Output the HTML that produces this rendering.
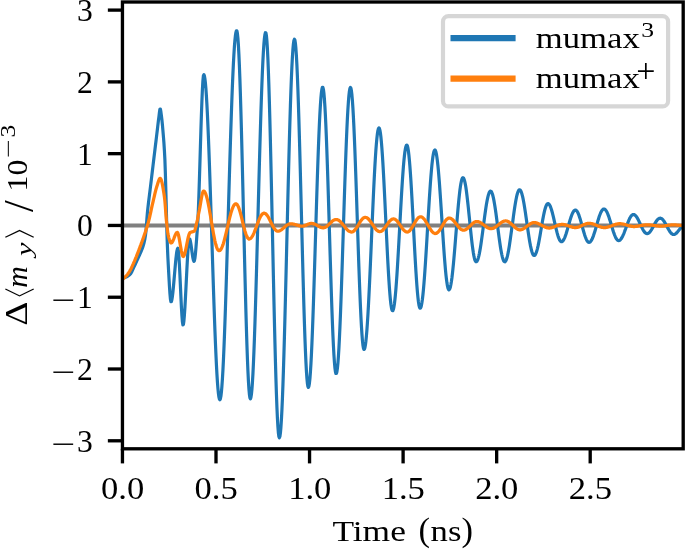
<!DOCTYPE html>
<html><head><meta charset="utf-8"><title>mumax comparison</title>
<style>
html,body{margin:0;padding:0;background:#fff;}
svg{display:block;}
text{font-family:"Liberation Serif","DejaVu Serif",serif;font-size:29.6px;fill:#000;}
.it{font-style:italic;}
.tk{font-size:30.6px;}
.br{font-family:"Noto Sans CJK JP","Noto Sans CJK SC","DejaVu Sans",sans-serif;font-weight:300;}
</style></head><body>
<svg width="685" height="549" viewBox="0 0 685 549">
<rect width="685" height="549" fill="#fff"/>
<defs><clipPath id="ax"><rect x="122.45" y="2.0" width="560.75" height="446.8"/></clipPath></defs>

<g clip-path="url(#ax)" fill="none" stroke-linejoin="round" stroke-linecap="butt">
<line x1="122.45" x2="683.2" y1="225.45" y2="225.45" stroke="#808080" stroke-width="4.1"/>
<path d="M122.5 278.0 L123.0 278.0 L123.5 277.9 L124.0 277.8 L124.5 277.7 L125.0 277.5 L125.5 277.3 L126.0 277.1 L126.5 276.9 L127.0 276.6 L127.5 276.3 L128.0 276.0 L128.4 275.7 L128.9 275.3 L129.4 274.9 L129.9 274.6 L130.4 274.0 L130.9 273.3 L131.4 272.5 L131.9 271.5 L132.4 270.4 L132.9 269.3 L133.4 268.2 L133.9 267.1 L134.4 266.1 L134.9 265.0 L135.4 264.0 L135.9 262.9 L136.4 261.8 L136.9 260.7 L137.4 259.6 L137.9 258.5 L138.4 257.4 L138.9 256.3 L139.4 255.3 L139.9 254.2 L140.4 253.0 L140.9 251.9 L141.4 250.6 L141.9 249.4 L142.4 248.1 L142.9 246.7 L143.4 245.1 L143.9 243.3 L144.4 241.2 L144.9 238.8 L145.4 235.7 L145.9 231.8 L146.4 225.8 L146.9 218.9 L147.4 212.7 L147.9 207.9 L148.4 203.5 L148.9 199.4 L149.4 195.4 L149.9 191.5 L150.4 187.4 L150.9 183.2 L151.4 179.1 L151.9 174.9 L152.4 170.7 L152.9 166.6 L153.4 162.4 L153.9 158.3 L154.4 154.1 L154.9 150.0 L155.4 145.8 L155.9 141.7 L156.4 137.6 L156.9 133.4 L157.4 129.2 L157.9 124.9 L158.4 120.7 L158.9 116.9 L159.4 112.8 L159.9 109.3 L160.4 109.1 L160.9 111.9 L161.4 115.6 L161.9 119.7 L162.4 124.7 L162.9 130.4 L163.4 136.3 L163.9 142.7 L164.4 150.3 L164.9 159.8 L165.4 174.3 L165.9 192.7 L166.4 212.0 L166.9 232.0 L167.4 246.2 L167.9 257.8 L168.4 267.3 L168.9 276.5 L169.4 285.4 L169.9 293.1 L170.4 298.9 L170.9 301.7 L171.4 301.5 L171.9 299.6 L172.4 296.4 L172.9 292.2 L173.4 287.1 L173.9 281.5 L174.4 275.7 L174.9 269.8 L175.4 264.2 L175.9 259.0 L176.4 254.6 L176.9 251.1 L177.4 249.0 L177.9 248.3 L178.4 250.7 L178.9 256.4 L179.4 264.7 L179.9 274.7 L180.4 285.6 L180.9 296.6 L181.4 306.8 L181.9 315.5 L182.4 321.8 L182.9 324.9 L183.4 324.4 L183.9 320.9 L184.4 315.2 L184.9 307.6 L185.4 298.7 L185.9 289.0 L186.4 278.9 L186.9 268.9 L187.4 259.6 L187.9 251.4 L188.4 244.9 L188.9 240.5 L189.4 238.7 L189.9 239.3 L190.4 241.2 L190.9 244.0 L191.4 247.5 L191.9 251.2 L192.4 254.7 L192.9 257.9 L193.4 260.2 L193.9 261.3 L194.4 260.8 L194.9 258.3 L195.4 254.0 L195.9 248.4 L196.4 241.9 L196.9 235.0 L197.4 228.1 L197.9 219.9 L198.4 208.7 L198.9 195.2 L199.4 179.9 L199.9 163.6 L200.4 146.9 L200.9 130.5 L201.4 115.0 L201.9 101.2 L202.4 89.6 L202.9 80.8 L203.4 75.7 L203.9 74.7 L204.4 75.9 L204.9 78.7 L205.4 83.0 L205.9 88.7 L206.4 95.9 L206.9 104.4 L207.4 114.1 L207.9 125.1 L208.4 137.1 L208.9 150.0 L209.4 163.8 L209.9 178.3 L210.4 193.3 L210.9 208.8 L211.4 224.5 L211.9 240.4 L212.4 256.2 L212.9 271.8 L213.4 287.1 L213.9 302.0 L214.4 316.2 L214.9 329.7 L215.4 342.3 L215.9 353.8 L216.4 364.3 L216.9 373.6 L217.4 381.6 L217.9 388.2 L218.4 393.3 L218.9 397.0 L219.4 399.2 L219.9 399.8 L220.4 398.8 L220.9 396.3 L221.4 392.1 L221.9 386.4 L222.4 379.2 L222.9 370.6 L223.4 360.6 L223.9 349.3 L224.4 336.9 L224.9 323.4 L225.4 309.0 L225.9 293.7 L226.4 277.8 L226.9 261.3 L227.4 244.4 L227.9 227.3 L228.4 210.0 L228.9 192.8 L229.4 175.8 L229.9 159.1 L230.4 143.0 L230.9 127.4 L231.4 112.6 L231.9 98.8 L232.4 85.9 L232.9 74.2 L233.4 63.7 L233.9 54.5 L234.4 46.7 L234.9 40.4 L235.4 35.6 L235.9 32.4 L236.4 30.8 L236.9 30.9 L237.4 33.3 L237.9 38.1 L238.4 45.2 L238.9 54.6 L239.4 66.0 L239.9 79.4 L240.4 94.6 L240.9 111.3 L241.4 129.4 L241.9 148.7 L242.4 168.8 L242.9 189.4 L243.4 210.5 L243.9 231.6 L244.4 252.4 L244.9 272.8 L245.4 292.4 L245.9 311.0 L246.4 328.3 L246.9 344.1 L247.4 358.3 L247.9 370.5 L248.4 380.7 L248.9 388.7 L249.4 394.4 L249.9 397.8 L250.4 398.8 L250.9 397.6 L251.4 394.6 L251.9 389.6 L252.4 382.8 L252.9 374.3 L253.4 364.0 L253.9 352.3 L254.4 339.0 L254.9 324.5 L255.4 308.8 L255.9 292.2 L256.4 274.7 L256.9 256.7 L257.4 238.2 L257.9 219.4 L258.4 200.6 L258.9 182.0 L259.4 163.7 L259.9 146.0 L260.4 129.0 L260.9 112.9 L261.4 97.9 L261.9 84.2 L262.4 71.8 L262.9 60.9 L263.4 51.7 L263.9 44.2 L264.4 38.5 L264.9 34.7 L265.4 32.7 L265.9 32.8 L266.4 35.5 L266.9 40.8 L267.4 48.6 L267.9 58.9 L268.4 71.5 L268.9 86.2 L269.4 102.9 L269.9 121.4 L270.4 141.3 L270.9 162.5 L271.4 184.6 L271.9 207.4 L272.4 230.5 L272.9 253.7 L273.4 276.7 L273.9 299.1 L274.4 320.7 L274.9 341.1 L275.4 360.2 L275.9 377.6 L276.4 393.2 L276.9 406.7 L277.4 417.9 L277.9 426.7 L278.4 433.0 L278.9 436.7 L279.4 437.8 L279.9 436.5 L280.4 433.1 L280.9 427.5 L281.4 419.9 L281.9 410.4 L282.4 399.0 L282.9 385.9 L283.4 371.1 L283.9 355.0 L284.4 337.6 L284.9 319.1 L285.4 299.7 L285.9 279.7 L286.4 259.2 L286.9 238.5 L287.4 217.8 L287.9 197.3 L288.4 177.3 L288.9 157.9 L289.4 139.4 L289.9 122.0 L290.4 105.9 L290.9 91.1 L291.4 78.0 L291.9 66.6 L292.4 57.1 L292.9 49.5 L293.4 43.9 L293.9 40.5 L294.4 39.2 L294.9 40.1 L295.4 43.2 L295.9 48.5 L296.4 55.8 L296.9 65.2 L297.4 76.5 L297.9 89.5 L298.4 104.1 L298.9 120.1 L299.4 137.3 L299.9 155.4 L300.4 174.3 L300.9 193.7 L301.4 213.3 L301.9 232.9 L302.4 252.3 L302.9 271.2 L303.4 289.3 L303.9 306.5 L304.4 322.5 L304.9 337.1 L305.4 350.1 L305.9 361.4 L306.4 370.8 L306.9 378.1 L307.4 383.4 L307.9 386.5 L308.4 387.4 L308.9 386.3 L309.4 383.4 L309.9 378.8 L310.4 372.4 L310.9 364.4 L311.4 354.9 L311.9 344.0 L312.4 331.8 L312.9 318.4 L313.4 304.1 L313.9 288.9 L314.4 273.2 L314.9 257.0 L315.4 240.5 L315.9 224.1 L316.4 207.8 L316.9 191.8 L317.4 176.4 L317.9 161.7 L318.4 147.9 L318.9 135.2 L319.4 123.8 L319.9 113.7 L320.4 105.1 L320.9 98.1 L321.4 92.7 L321.9 89.1 L322.4 87.3 L322.9 87.3 L323.4 89.3 L323.9 93.1 L324.4 98.8 L324.9 106.3 L325.4 115.5 L325.9 126.2 L326.4 138.3 L326.9 151.7 L327.4 166.1 L327.9 181.4 L328.4 197.4 L328.9 213.8 L329.4 230.4 L329.9 247.0 L330.4 263.4 L330.9 279.4 L331.4 294.7 L331.9 309.1 L332.4 322.5 L332.9 334.6 L333.4 345.3 L333.9 354.5 L334.4 362.0 L334.9 367.7 L335.4 371.5 L335.9 373.5 L336.4 373.5 L336.9 371.8 L337.4 368.3 L337.9 363.3 L338.4 356.6 L338.9 348.4 L339.4 338.7 L339.9 327.8 L340.4 315.7 L340.9 302.6 L341.4 288.6 L341.9 273.9 L342.4 258.7 L342.9 243.2 L343.4 227.5 L343.9 211.8 L344.4 196.4 L344.9 181.3 L345.4 166.9 L345.9 153.2 L346.4 140.5 L346.9 128.9 L347.4 118.4 L347.9 109.4 L348.4 101.8 L348.9 95.7 L349.4 91.3 L349.9 88.5 L350.4 87.5 L350.9 88.2 L351.4 90.6 L351.9 94.8 L352.4 100.6 L352.9 107.9 L353.4 116.8 L353.9 126.9 L354.4 138.4 L354.9 150.8 L355.4 164.2 L355.9 178.3 L356.4 192.9 L356.9 207.9 L357.4 223.0 L357.9 238.1 L358.4 252.9 L358.9 267.2 L359.4 280.9 L359.9 293.8 L360.4 305.6 L360.9 316.3 L361.4 325.7 L361.9 333.7 L362.4 340.1 L362.9 344.9 L363.4 348.0 L363.9 349.4 L364.4 349.2 L364.9 347.7 L365.4 345.0 L365.9 341.2 L366.4 336.2 L366.9 330.1 L367.4 323.0 L367.9 315.0 L368.4 306.1 L368.9 296.4 L369.4 286.2 L369.9 275.4 L370.4 264.2 L370.9 252.7 L371.4 241.0 L371.9 229.4 L372.4 217.8 L372.9 206.5 L373.4 195.5 L373.9 185.0 L374.4 175.1 L374.9 165.9 L375.4 157.5 L375.9 150.0 L376.4 143.5 L376.9 138.1 L377.4 133.8 L377.9 130.6 L378.4 128.6 L378.9 127.9 L379.4 128.4 L379.9 130.1 L380.4 133.0 L380.9 137.0 L381.4 142.2 L381.9 148.3 L382.4 155.4 L382.9 163.4 L383.4 172.1 L383.9 181.4 L384.4 191.3 L384.9 201.5 L385.4 212.0 L385.9 222.5 L386.4 233.0 L386.9 243.4 L387.4 253.4 L387.9 262.9 L388.4 271.9 L388.9 280.2 L389.4 287.6 L389.9 294.2 L390.4 299.8 L390.9 304.2 L391.4 307.6 L391.9 309.8 L392.4 310.7 L392.9 310.6 L393.4 309.3 L393.9 307.1 L394.4 304.0 L394.9 299.8 L395.4 294.9 L395.9 289.1 L396.4 282.5 L396.9 275.3 L397.4 267.5 L397.9 259.2 L398.4 250.5 L398.9 241.6 L399.4 232.5 L399.9 223.3 L400.4 214.2 L400.9 205.3 L401.4 196.6 L401.9 188.3 L402.4 180.5 L402.9 173.3 L403.4 166.7 L403.9 160.9 L404.4 156.0 L404.9 151.8 L405.4 148.7 L405.9 146.5 L406.4 145.2 L406.9 145.1 L407.4 145.9 L407.9 147.9 L408.4 151.0 L408.9 155.2 L409.4 160.3 L409.9 166.3 L410.4 173.1 L410.9 180.7 L411.4 188.9 L411.9 197.6 L412.4 206.8 L412.9 216.2 L413.4 225.7 L413.9 235.2 L414.4 244.7 L414.9 253.9 L415.4 262.7 L415.9 271.0 L416.4 278.7 L416.9 285.7 L417.4 291.9 L417.9 297.2 L418.4 301.5 L418.9 304.8 L419.4 307.0 L419.9 308.2 L420.4 308.2 L420.9 307.3 L421.4 305.5 L421.9 302.8 L422.4 299.3 L422.9 295.0 L423.4 290.0 L423.9 284.2 L424.4 277.8 L424.9 270.9 L425.4 263.5 L425.9 255.7 L426.4 247.6 L426.9 239.3 L427.4 230.8 L427.9 222.4 L428.4 214.0 L428.9 205.8 L429.4 197.9 L429.9 190.3 L430.4 183.2 L430.9 176.6 L431.4 170.6 L431.9 165.2 L432.4 160.6 L432.9 156.8 L433.4 153.8 L433.9 151.6 L434.4 150.4 L434.9 150.0 L435.4 150.5 L435.9 151.9 L436.4 154.1 L436.9 157.2 L437.4 161.0 L437.9 165.5 L438.4 170.7 L438.9 176.6 L439.4 182.9 L439.9 189.8 L440.4 197.0 L440.9 204.5 L441.4 212.1 L441.9 219.9 L442.4 227.7 L442.9 235.3 L443.4 242.8 L443.9 250.0 L444.4 256.9 L444.9 263.2 L445.4 269.1 L445.9 274.3 L446.4 278.8 L446.9 282.6 L447.4 285.7 L447.9 287.9 L448.4 289.3 L448.9 289.8 L449.4 289.5 L449.9 288.5 L450.4 286.9 L450.9 284.5 L451.4 281.5 L451.9 278.0 L452.4 273.8 L452.9 269.2 L453.4 264.1 L453.9 258.6 L454.4 252.9 L454.9 246.8 L455.4 240.7 L455.9 234.4 L456.4 228.1 L456.9 221.9 L457.4 215.8 L457.9 210.0 L458.4 204.5 L458.9 199.3 L459.4 194.6 L459.9 190.3 L460.4 186.6 L460.9 183.5 L461.4 181.1 L461.9 179.2 L462.4 178.1 L462.9 177.7 L463.4 177.9 L463.9 178.8 L464.4 180.2 L464.9 182.1 L465.4 184.6 L465.9 187.6 L466.4 191.1 L466.9 195.0 L467.4 199.2 L467.9 203.7 L468.4 208.4 L468.9 213.3 L469.4 218.2 L469.9 223.2 L470.4 228.2 L470.9 233.0 L471.4 237.7 L471.9 242.1 L472.4 246.1 L472.9 249.8 L473.4 253.1 L473.9 255.9 L474.4 258.2 L474.9 260.0 L475.4 261.1 L475.9 261.7 L476.4 261.7 L476.9 261.3 L477.4 260.5 L477.9 259.3 L478.4 257.6 L478.9 255.6 L479.4 253.3 L479.9 250.6 L480.4 247.7 L480.9 244.5 L481.4 241.0 L481.9 237.4 L482.4 233.7 L482.9 229.9 L483.4 226.1 L483.9 222.2 L484.4 218.4 L484.9 214.7 L485.4 211.2 L485.9 207.8 L486.4 204.6 L486.9 201.7 L487.4 199.1 L487.9 196.8 L488.4 194.9 L488.9 193.4 L489.4 192.2 L489.9 191.5 L490.4 191.1 L490.9 191.2 L491.4 191.7 L491.9 192.7 L492.4 194.0 L492.9 195.8 L493.4 197.9 L493.9 200.4 L494.4 203.2 L494.9 206.2 L495.4 209.6 L495.9 213.1 L496.4 216.8 L496.9 220.6 L497.4 224.5 L497.9 228.4 L498.4 232.3 L498.9 236.1 L499.4 239.8 L499.9 243.3 L500.4 246.7 L500.9 249.7 L501.4 252.5 L501.9 255.0 L502.4 257.1 L502.9 258.9 L503.4 260.2 L503.9 261.2 L504.4 261.7 L504.9 261.8 L505.4 261.5 L505.9 260.7 L506.4 259.6 L506.9 258.1 L507.4 256.2 L507.9 253.9 L508.4 251.4 L508.9 248.5 L509.4 245.4 L509.9 242.1 L510.4 238.6 L510.9 234.9 L511.4 231.2 L511.9 227.3 L512.5 223.5 L513.0 219.7 L513.5 215.9 L514.0 212.3 L514.5 208.8 L515.0 205.5 L515.5 202.5 L516.0 199.7 L516.5 197.2 L517.0 195.0 L517.5 193.2 L518.0 191.8 L518.5 190.7 L519.0 190.0 L519.5 189.8 L520.0 190.0 L520.5 190.5 L521.0 191.4 L521.5 192.6 L522.0 194.3 L522.5 196.2 L523.0 198.4 L523.5 201.0 L524.0 203.7 L524.5 206.7 L525.0 209.9 L525.5 213.2 L526.0 216.7 L526.5 220.2 L527.0 223.7 L527.5 227.2 L528.0 230.7 L528.5 234.1 L529.0 237.3 L529.5 240.4 L530.0 243.2 L530.5 245.9 L531.0 248.2 L531.5 250.3 L532.0 252.0 L532.5 253.5 L533.0 254.5 L533.5 255.2 L534.0 255.5 L534.5 255.4 L535.0 255.0 L535.5 254.3 L536.0 253.2 L536.5 251.9 L537.0 250.2 L537.5 248.3 L538.0 246.2 L538.5 243.8 L539.0 241.2 L539.5 238.5 L540.0 235.7 L540.5 232.8 L541.0 229.8 L541.5 226.9 L542.0 224.0 L542.5 221.1 L543.0 218.4 L543.5 215.8 L544.0 213.4 L544.5 211.2 L545.0 209.2 L545.5 207.5 L546.0 206.1 L546.5 205.0 L547.0 204.2 L547.5 203.7 L548.0 203.6 L548.5 203.8 L549.0 204.2 L549.5 204.8 L550.0 205.7 L550.5 206.9 L551.0 208.2 L551.5 209.7 L552.0 211.5 L552.5 213.3 L553.0 215.3 L553.5 217.4 L554.0 219.6 L554.5 221.8 L555.0 224.0 L555.5 226.2 L556.0 228.3 L556.5 230.4 L557.0 232.4 L557.5 234.2 L558.0 235.9 L558.5 237.4 L559.0 238.7 L559.5 239.8 L560.0 240.6 L560.5 241.2 L561.0 241.6 L561.5 241.7 L562.0 241.6 L562.5 241.3 L563.0 240.7 L563.5 240.0 L564.0 239.1 L564.5 238.1 L565.0 236.9 L565.5 235.5 L566.0 234.1 L566.5 232.5 L567.0 230.8 L567.5 229.1 L568.0 227.3 L568.5 225.5 L569.0 223.8 L569.5 222.0 L570.0 220.3 L570.5 218.7 L571.0 217.1 L571.5 215.7 L572.0 214.4 L572.5 213.3 L573.0 212.3 L573.5 211.5 L574.0 210.8 L574.5 210.4 L575.0 210.1 L575.5 210.1 L576.0 210.3 L576.5 210.7 L577.0 211.2 L577.5 212.0 L578.0 213.0 L578.5 214.1 L579.0 215.4 L579.5 216.9 L580.0 218.4 L580.5 220.1 L581.0 221.9 L581.5 223.7 L582.0 225.5 L582.5 227.4 L583.0 229.2 L583.5 231.0 L584.0 232.7 L584.5 234.4 L585.0 235.9 L585.5 237.3 L586.0 238.6 L586.5 239.7 L587.0 240.6 L587.5 241.4 L588.0 241.9 L588.5 242.3 L589.0 242.4 L589.5 242.3 L590.0 242.1 L590.5 241.6 L591.0 241.0 L591.5 240.2 L592.0 239.3 L592.5 238.2 L593.0 236.9 L593.5 235.6 L594.0 234.1 L594.5 232.5 L595.0 230.9 L595.5 229.2 L596.0 227.5 L596.5 225.7 L597.0 223.9 L597.5 222.2 L598.0 220.5 L598.5 218.9 L599.0 217.3 L599.5 215.8 L600.0 214.5 L600.5 213.2 L601.0 212.1 L601.5 211.2 L602.0 210.4 L602.5 209.8 L603.0 209.3 L603.5 209.1 L604.0 209.0 L604.5 209.1 L605.0 209.4 L605.5 209.9 L606.0 210.5 L606.5 211.3 L607.0 212.2 L607.5 213.3 L608.0 214.6 L608.5 215.9 L609.0 217.3 L609.5 218.9 L610.0 220.5 L610.5 222.1 L611.0 223.8 L611.5 225.5 L612.0 227.2 L612.5 228.8 L613.0 230.4 L613.5 232.0 L614.0 233.4 L614.5 234.8 L615.0 236.0 L615.5 237.2 L616.0 238.1 L616.5 239.0 L617.0 239.6 L617.5 240.1 L618.0 240.4 L618.5 240.6 L619.0 240.6 L619.5 240.4 L620.0 240.1 L620.5 239.6 L621.0 239.0 L621.5 238.3 L622.0 237.4 L622.5 236.5 L623.0 235.4 L623.5 234.3 L624.0 233.1 L624.5 231.8 L625.0 230.4 L625.5 229.1 L626.0 227.7 L626.5 226.3 L627.0 224.9 L627.5 223.6 L628.0 222.3 L628.5 221.1 L629.0 219.9 L629.5 218.8 L630.0 217.8 L630.5 217.0 L631.0 216.2 L631.5 215.6 L632.0 215.1 L632.5 214.8 L633.0 214.6 L633.5 214.5 L634.0 214.6 L634.5 214.8 L635.0 215.1 L635.5 215.6 L636.0 216.1 L636.5 216.8 L637.0 217.5 L637.5 218.4 L638.0 219.3 L638.5 220.3 L639.0 221.3 L639.5 222.4 L640.0 223.5 L640.5 224.6 L641.0 225.7 L641.5 226.8 L642.0 227.8 L642.5 228.8 L643.0 229.7 L643.5 230.6 L644.0 231.3 L644.5 232.0 L645.0 232.5 L645.5 233.0 L646.0 233.3 L646.5 233.5 L647.0 233.6 L647.5 233.6 L648.0 233.4 L648.5 233.1 L649.0 232.8 L649.5 232.3 L650.0 231.8 L650.5 231.1 L651.0 230.4 L651.5 229.6 L652.0 228.8 L652.5 227.9 L653.0 227.0 L653.5 226.1 L654.0 225.2 L654.5 224.3 L655.0 223.4 L655.5 222.5 L656.0 221.7 L656.5 221.0 L657.0 220.3 L657.5 219.7 L658.0 219.2 L658.5 218.8 L659.0 218.5 L659.5 218.3 L660.0 218.2 L660.5 218.2 L661.0 218.4 L661.5 218.6 L662.0 218.9 L662.5 219.4 L663.0 219.9 L663.5 220.6 L664.0 221.3 L664.5 222.0 L665.0 222.9 L665.5 223.7 L666.0 224.7 L666.5 225.6 L667.0 226.5 L667.5 227.5 L668.0 228.4 L668.5 229.3 L669.0 230.2 L669.5 231.0 L670.0 231.7 L670.5 232.4 L671.0 233.0 L671.5 233.5 L672.0 233.9 L672.5 234.2 L673.0 234.4 L673.5 234.5 L674.0 234.5 L674.5 234.4 L675.0 234.1 L675.5 233.8 L676.0 233.5 L676.5 233.0 L677.0 232.5 L677.5 231.9 L678.0 231.3 L678.5 230.7 L679.0 230.1 L679.5 229.4 L680.0 228.9 L680.5 228.3 L681.0 227.8 L681.5 227.4 L682.0 227.0 L682.5 226.8 L683.0 226.6 L683.5 226.5" stroke="#1f77b4" stroke-width="3.2"/>
<path d="M122.5 279.3 L123.0 278.9 L123.5 278.5 L124.0 278.1 L124.5 277.7 L125.0 277.2 L125.5 276.7 L126.0 276.2 L126.5 275.7 L127.0 275.1 L127.5 274.5 L128.0 273.8 L128.4 273.1 L128.9 272.4 L129.4 271.6 L129.9 270.8 L130.4 269.9 L130.9 269.0 L131.4 268.0 L131.9 266.9 L132.4 265.8 L132.9 264.7 L133.4 263.6 L133.9 262.4 L134.4 261.3 L134.9 260.1 L135.4 258.9 L135.9 257.7 L136.4 256.5 L136.9 255.2 L137.4 253.9 L137.9 252.6 L138.4 251.3 L138.9 250.0 L139.4 248.7 L139.9 247.3 L140.4 245.9 L140.9 244.6 L141.4 243.2 L141.9 241.9 L142.4 240.5 L142.9 239.1 L143.4 237.7 L143.9 236.3 L144.4 234.8 L144.9 233.4 L145.4 231.9 L145.9 230.3 L146.4 228.8 L146.9 227.2 L147.4 225.6 L147.9 223.9 L148.4 222.1 L148.9 220.2 L149.4 218.2 L149.9 216.0 L150.4 213.6 L150.9 211.3 L151.4 208.9 L151.9 206.6 L152.4 204.4 L152.9 202.3 L153.4 200.2 L153.9 198.0 L154.4 195.8 L154.9 193.7 L155.4 191.6 L155.9 189.7 L156.4 187.9 L156.9 186.2 L157.4 184.7 L157.9 183.1 L158.4 181.6 L158.9 180.1 L159.4 179.0 L159.9 178.4 L160.4 178.4 L160.9 179.1 L161.4 180.4 L161.9 182.2 L162.4 184.5 L162.9 187.2 L163.4 190.2 L163.9 193.3 L164.4 196.7 L164.9 201.1 L165.4 207.4 L165.9 214.3 L166.4 220.5 L166.9 225.3 L167.4 229.8 L167.9 233.6 L168.4 236.2 L168.9 238.1 L169.4 239.8 L169.9 241.3 L170.4 242.3 L170.9 242.9 L171.4 242.9 L171.9 242.6 L172.4 241.8 L172.9 240.9 L173.4 239.7 L173.9 238.5 L174.4 237.2 L174.9 235.9 L175.4 234.7 L175.9 233.7 L176.4 233.0 L176.9 232.5 L177.4 232.4 L177.9 233.2 L178.4 234.7 L178.9 236.9 L179.4 239.5 L179.9 242.4 L180.4 245.4 L180.9 248.3 L181.4 251.0 L181.9 253.4 L182.4 255.2 L182.9 256.3 L183.4 256.5 L183.9 255.9 L184.4 254.8 L184.9 253.2 L185.4 251.1 L185.9 248.8 L186.4 246.4 L186.9 243.8 L187.4 241.3 L187.9 238.9 L188.4 236.7 L188.9 234.9 L189.4 233.6 L189.9 232.7 L190.4 232.4 L190.9 232.2 L191.4 232.0 L191.9 231.9 L192.4 231.8 L192.9 231.7 L193.4 231.5 L193.9 231.3 L194.4 231.0 L194.9 230.1 L195.4 228.5 L195.9 226.5 L196.4 224.3 L196.9 222.2 L197.4 220.0 L197.9 217.5 L198.4 214.8 L198.9 212.2 L199.4 209.8 L199.9 207.1 L200.4 204.2 L200.9 201.3 L201.4 198.3 L201.9 195.7 L202.4 193.5 L202.9 191.9 L203.4 191.1 L203.9 191.2 L204.4 191.5 L204.9 192.2 L205.4 193.2 L205.9 194.4 L206.4 195.9 L206.9 197.7 L207.4 199.7 L207.9 202.0 L208.4 204.4 L208.9 207.0 L209.4 209.7 L209.9 212.6 L210.4 215.5 L210.9 218.5 L211.4 221.5 L211.9 224.5 L212.4 227.5 L212.9 230.4 L213.4 233.2 L213.9 235.9 L214.4 238.4 L214.9 240.8 L215.4 242.9 L215.9 244.8 L216.4 246.5 L216.9 247.9 L217.4 249.0 L217.9 249.9 L218.4 250.4 L218.9 250.7 L219.4 250.6 L219.9 250.4 L220.4 250.0 L220.9 249.3 L221.4 248.5 L221.9 247.4 L222.4 246.2 L222.9 244.9 L223.4 243.4 L223.9 241.7 L224.4 239.9 L224.9 238.0 L225.4 236.0 L225.9 234.0 L226.4 231.8 L226.9 229.7 L227.4 227.5 L227.9 225.3 L228.4 223.1 L228.9 221.0 L229.4 218.9 L229.9 216.9 L230.4 215.0 L230.9 213.1 L231.4 211.5 L231.9 209.9 L232.4 208.5 L232.9 207.3 L233.4 206.2 L233.9 205.3 L234.4 204.7 L234.9 204.2 L235.4 203.9 L235.9 203.8 L236.4 203.9 L236.9 204.3 L237.4 205.0 L237.9 205.8 L238.4 206.9 L238.9 208.2 L239.4 209.6 L239.9 211.3 L240.4 213.0 L240.9 214.9 L241.4 216.9 L241.9 218.9 L242.4 221.0 L242.9 223.1 L243.4 225.1 L243.9 227.1 L244.4 229.0 L244.9 230.9 L245.4 232.5 L245.9 234.1 L246.4 235.4 L246.9 236.6 L247.4 237.5 L247.9 238.2 L248.4 238.7 L248.9 239.0 L249.4 239.0 L249.9 238.8 L250.4 238.6 L250.9 238.1 L251.4 237.6 L251.9 236.9 L252.4 236.1 L252.9 235.2 L253.4 234.2 L253.9 233.1 L254.4 231.9 L254.9 230.6 L255.4 229.3 L255.9 228.0 L256.4 226.6 L256.9 225.3 L257.4 223.9 L257.9 222.6 L258.4 221.3 L258.9 220.1 L259.4 218.9 L259.9 217.8 L260.4 216.8 L260.9 215.9 L261.4 215.2 L261.9 214.5 L262.4 214.0 L262.9 213.6 L263.4 213.3 L263.9 213.2 L264.4 213.2 L264.9 213.4 L265.4 213.6 L265.9 214.0 L266.4 214.5 L266.9 215.1 L267.4 215.7 L267.9 216.5 L268.4 217.3 L268.9 218.2 L269.4 219.2 L269.9 220.2 L270.4 221.2 L270.9 222.2 L271.4 223.2 L271.9 224.2 L272.4 225.2 L272.9 226.2 L273.4 227.1 L273.9 227.9 L274.4 228.7 L274.9 229.3 L275.4 229.9 L275.9 230.4 L276.4 230.8 L276.9 231.0 L277.4 231.2 L277.9 231.2 L278.4 231.2 L278.9 231.1 L279.4 230.9 L279.9 230.7 L280.4 230.4 L280.9 230.1 L281.4 229.8 L281.9 229.4 L282.4 229.0 L282.9 228.6 L283.4 228.2 L283.9 227.7 L284.4 227.3 L284.9 226.8 L285.4 226.4 L285.9 226.0 L286.4 225.6 L286.9 225.2 L287.4 224.9 L287.9 224.6 L288.4 224.3 L288.9 224.1 L289.4 223.9 L289.9 223.8 L290.4 223.8 L290.9 223.8 L291.4 223.8 L291.9 223.9 L292.4 223.9 L292.9 224.0 L293.4 224.1 L293.9 224.2 L294.4 224.4 L294.9 224.5 L295.4 224.6 L295.9 224.8 L296.4 224.9 L296.9 225.1 L297.4 225.3 L297.9 225.4 L298.4 225.5 L298.9 225.7 L299.4 225.8 L299.9 225.9 L300.4 226.0 L300.9 226.0 L301.4 226.1 L301.9 226.1 L302.4 226.1 L302.9 226.1 L303.4 226.0 L303.9 225.9 L304.4 225.8 L304.9 225.6 L305.4 225.4 L305.9 225.2 L306.4 225.0 L306.9 224.7 L307.4 224.5 L307.9 224.3 L308.4 224.1 L308.9 223.9 L309.4 223.7 L309.9 223.6 L310.4 223.5 L310.9 223.4 L311.4 223.4 L311.9 223.4 L312.4 223.5 L312.9 223.6 L313.4 223.7 L313.9 223.9 L314.4 224.0 L314.9 224.3 L315.4 224.5 L315.9 224.8 L316.4 225.0 L316.9 225.3 L317.4 225.6 L317.9 225.9 L318.4 226.2 L318.9 226.5 L319.4 226.7 L319.9 227.0 L320.4 227.2 L320.9 227.4 L321.4 227.5 L321.9 227.7 L322.4 227.7 L322.9 227.8 L323.4 227.8 L323.9 227.7 L324.4 227.6 L324.9 227.5 L325.4 227.2 L325.9 227.0 L326.4 226.6 L326.9 226.3 L327.4 225.9 L327.9 225.4 L328.4 224.9 L328.9 224.5 L329.4 224.0 L329.9 223.4 L330.4 222.9 L330.9 222.5 L331.4 222.0 L331.9 221.5 L332.4 221.1 L332.9 220.7 L333.4 220.4 L333.9 220.1 L334.4 219.9 L334.9 219.7 L335.4 219.6 L335.9 219.5 L336.4 219.5 L336.9 219.6 L337.4 219.7 L337.9 219.9 L338.4 220.1 L338.9 220.5 L339.4 220.8 L339.9 221.2 L340.4 221.7 L340.9 222.2 L341.4 222.8 L341.9 223.3 L342.4 223.9 L342.9 224.5 L343.4 225.2 L343.9 225.8 L344.4 226.4 L344.9 227.1 L345.4 227.7 L345.9 228.3 L346.4 228.9 L346.9 229.4 L347.4 229.9 L347.9 230.3 L348.4 230.8 L348.9 231.1 L349.4 231.4 L349.9 231.6 L350.4 231.8 L350.9 231.9 L351.4 232.0 L351.9 232.0 L352.4 231.9 L352.9 231.7 L353.4 231.4 L353.9 231.0 L354.4 230.5 L354.9 229.9 L355.4 229.3 L355.9 228.7 L356.4 227.9 L356.9 227.2 L357.4 226.4 L357.9 225.5 L358.4 224.7 L358.9 223.9 L359.4 223.0 L359.9 222.2 L360.4 221.5 L360.9 220.7 L361.4 220.1 L361.9 219.5 L362.4 218.9 L362.9 218.4 L363.4 218.0 L363.9 217.7 L364.4 217.5 L364.9 217.4 L365.4 217.4 L365.9 217.5 L366.4 217.6 L366.9 217.8 L367.4 218.2 L367.9 218.5 L368.4 219.0 L368.9 219.5 L369.4 220.1 L369.9 220.7 L370.4 221.4 L370.9 222.1 L371.4 222.8 L371.9 223.6 L372.4 224.3 L372.9 225.1 L373.4 225.9 L373.9 226.6 L374.4 227.3 L374.9 228.0 L375.4 228.7 L375.9 229.3 L376.4 229.8 L376.9 230.3 L377.4 230.7 L377.9 231.0 L378.4 231.3 L378.9 231.5 L379.4 231.6 L379.9 231.6 L380.4 231.5 L380.9 231.4 L381.4 231.2 L381.9 230.8 L382.4 230.5 L382.9 230.0 L383.4 229.5 L383.9 228.9 L384.4 228.3 L384.9 227.7 L385.4 227.0 L385.9 226.3 L386.4 225.5 L386.9 224.8 L387.4 224.1 L387.9 223.4 L388.4 222.7 L388.9 222.1 L389.4 221.4 L389.9 220.9 L390.4 220.4 L390.9 220.0 L391.4 219.6 L391.9 219.3 L392.4 219.1 L392.9 219.0 L393.4 218.9 L393.9 218.9 L394.4 219.1 L394.9 219.3 L395.4 219.5 L395.9 219.9 L396.4 220.3 L396.9 220.8 L397.4 221.4 L397.9 222.0 L398.4 222.7 L398.9 223.4 L399.4 224.1 L399.9 224.9 L400.4 225.6 L400.9 226.3 L401.4 227.1 L401.9 227.8 L402.4 228.5 L402.9 229.1 L403.4 229.7 L403.9 230.3 L404.4 230.7 L404.9 231.1 L405.4 231.5 L405.9 231.7 L406.4 231.9 L406.9 232.0 L407.4 232.0 L407.9 231.9 L408.4 231.7 L408.9 231.4 L409.4 231.0 L409.9 230.5 L410.4 229.9 L410.9 229.2 L411.4 228.5 L411.9 227.8 L412.4 226.9 L412.9 226.1 L413.4 225.2 L413.9 224.3 L414.4 223.4 L414.9 222.5 L415.4 221.7 L415.9 220.9 L416.4 220.1 L416.9 219.4 L417.4 218.8 L417.9 218.2 L418.4 217.7 L418.9 217.4 L419.4 217.1 L419.9 216.9 L420.4 216.8 L420.9 216.8 L421.4 216.9 L421.9 217.1 L422.4 217.4 L422.9 217.8 L423.4 218.3 L423.9 218.8 L424.4 219.4 L424.9 220.1 L425.4 220.8 L425.9 221.6 L426.4 222.5 L426.9 223.3 L427.4 224.2 L427.9 225.1 L428.4 225.9 L428.9 226.8 L429.4 227.7 L429.9 228.5 L430.4 229.3 L430.9 230.0 L431.4 230.7 L431.9 231.4 L432.4 231.9 L432.9 232.4 L433.4 232.8 L433.9 233.1 L434.4 233.3 L434.9 233.5 L435.4 233.5 L435.9 233.4 L436.4 233.3 L436.9 233.0 L437.4 232.7 L437.9 232.3 L438.4 231.7 L438.9 231.2 L439.4 230.5 L439.9 229.8 L440.4 229.0 L440.9 228.2 L441.4 227.4 L441.9 226.5 L442.4 225.6 L442.9 224.8 L443.4 223.9 L443.9 223.1 L444.4 222.3 L444.9 221.5 L445.4 220.8 L445.9 220.2 L446.4 219.6 L446.9 219.2 L447.4 218.8 L447.9 218.5 L448.4 218.2 L448.9 218.1 L449.4 218.1 L449.9 218.2 L450.4 218.3 L450.9 218.5 L451.4 218.8 L451.9 219.1 L452.4 219.5 L452.9 220.0 L453.4 220.5 L453.9 221.0 L454.4 221.6 L454.9 222.2 L455.4 222.9 L455.9 223.5 L456.4 224.2 L456.9 224.9 L457.4 225.5 L457.9 226.2 L458.4 226.8 L458.9 227.4 L459.4 227.9 L459.9 228.4 L460.4 228.9 L460.9 229.3 L461.4 229.6 L461.9 229.8 L462.4 230.0 L462.9 230.2 L463.4 230.2 L463.9 230.2 L464.4 230.1 L464.9 230.0 L465.4 229.8 L465.9 229.5 L466.4 229.2 L466.9 228.9 L467.4 228.5 L467.9 228.0 L468.4 227.6 L468.9 227.1 L469.4 226.6 L469.9 226.1 L470.4 225.6 L470.9 225.1 L471.4 224.6 L471.9 224.1 L472.4 223.7 L472.9 223.2 L473.4 222.8 L473.9 222.5 L474.4 222.2 L474.9 221.9 L475.4 221.7 L475.9 221.6 L476.4 221.5 L476.9 221.5 L477.4 221.5 L477.9 221.6 L478.4 221.7 L478.9 221.9 L479.4 222.1 L479.9 222.3 L480.4 222.6 L480.9 222.9 L481.4 223.2 L481.9 223.5 L482.4 223.9 L482.9 224.3 L483.4 224.7 L483.9 225.1 L484.4 225.5 L484.9 225.9 L485.4 226.2 L485.9 226.6 L486.4 227.0 L486.9 227.3 L487.4 227.6 L487.9 227.9 L488.4 228.1 L488.9 228.3 L489.4 228.5 L489.9 228.6 L490.4 228.7 L490.9 228.7 L491.4 228.7 L491.9 228.6 L492.4 228.5 L492.9 228.4 L493.4 228.2 L493.9 228.0 L494.4 227.7 L494.9 227.4 L495.4 227.1 L495.9 226.8 L496.4 226.4 L496.9 226.0 L497.4 225.6 L497.9 225.2 L498.4 224.8 L498.9 224.3 L499.4 223.9 L499.9 223.5 L500.4 223.1 L500.9 222.8 L501.4 222.4 L501.9 222.1 L502.4 221.8 L502.9 221.6 L503.4 221.3 L503.9 221.2 L504.4 221.0 L504.9 221.0 L505.4 220.9 L505.9 220.9 L506.4 221.0 L506.9 221.1 L507.4 221.2 L507.9 221.4 L508.4 221.7 L508.9 222.0 L509.4 222.3 L509.9 222.7 L510.4 223.1 L510.9 223.6 L511.4 224.0 L511.9 224.5 L512.5 225.0 L513.0 225.5 L513.5 226.0 L514.0 226.5 L514.5 226.9 L515.0 227.4 L515.5 227.8 L516.0 228.2 L516.5 228.6 L517.0 228.9 L517.5 229.2 L518.0 229.4 L518.5 229.6 L519.0 229.7 L519.5 229.8 L520.0 229.8 L520.5 229.8 L521.0 229.7 L521.5 229.6 L522.0 229.4 L522.5 229.2 L523.0 229.0 L523.5 228.7 L524.0 228.4 L524.5 228.1 L525.0 227.8 L525.5 227.4 L526.0 227.0 L526.5 226.6 L527.0 226.2 L527.5 225.8 L528.0 225.4 L528.5 225.1 L529.0 224.7 L529.5 224.3 L530.0 224.0 L530.5 223.7 L531.0 223.4 L531.5 223.2 L532.0 223.0 L532.5 222.8 L533.0 222.7 L533.5 222.6 L534.0 222.6 L534.5 222.6 L535.0 222.6 L535.5 222.7 L536.0 222.8 L536.5 222.9 L537.0 223.1 L537.5 223.2 L538.0 223.4 L538.5 223.7 L539.0 223.9 L539.5 224.1 L540.0 224.4 L540.5 224.7 L541.0 225.0 L541.5 225.2 L542.0 225.5 L542.5 225.8 L543.0 226.1 L543.5 226.4 L544.0 226.6 L544.5 226.8 L545.0 227.1 L545.5 227.3 L546.0 227.5 L546.5 227.6 L547.0 227.8 L547.5 227.9 L548.0 227.9 L548.5 228.0 L549.0 228.0 L549.5 228.0 L550.0 228.0 L550.5 227.9 L551.0 227.8 L551.5 227.7 L552.0 227.6 L552.5 227.4 L553.0 227.3 L553.5 227.1 L554.0 226.9 L554.5 226.7 L555.0 226.5 L555.5 226.2 L556.0 226.0 L556.5 225.8 L557.0 225.6 L557.5 225.4 L558.0 225.2 L558.5 225.0 L559.0 224.9 L559.5 224.8 L560.0 224.6 L560.5 224.5 L561.0 224.5 L561.5 224.4 L562.0 224.4 L562.5 224.4 L563.0 224.4 L563.5 224.5 L564.0 224.6 L564.5 224.6 L565.0 224.8 L565.5 224.9 L566.0 225.0 L566.5 225.2 L567.0 225.4 L567.5 225.5 L568.0 225.7 L568.5 225.9 L569.0 226.1 L569.5 226.3 L570.0 226.5 L570.5 226.6 L571.0 226.8 L571.5 227.0 L572.0 227.1 L572.5 227.2 L573.0 227.4 L573.5 227.4 L574.0 227.5 L574.5 227.6 L575.0 227.6 L575.5 227.6 L576.0 227.6 L576.5 227.5 L577.0 227.4 L577.5 227.3 L578.0 227.2 L578.5 227.1 L579.0 226.9 L579.5 226.7 L580.0 226.5 L580.5 226.3 L581.0 226.0 L581.5 225.8 L582.0 225.5 L582.5 225.3 L583.0 225.1 L583.5 224.8 L584.0 224.6 L584.5 224.4 L585.0 224.2 L585.5 224.0 L586.0 223.8 L586.5 223.7 L587.0 223.5 L587.5 223.4 L588.0 223.4 L588.5 223.3 L589.0 223.3 L589.5 223.3 L590.0 223.3 L590.5 223.4 L591.0 223.5 L591.5 223.6 L592.0 223.7 L592.5 223.8 L593.0 224.0 L593.5 224.1 L594.0 224.3 L594.5 224.5 L595.0 224.7 L595.5 224.9 L596.0 225.1 L596.5 225.4 L597.0 225.6 L597.5 225.8 L598.0 226.0 L598.5 226.2 L599.0 226.4 L599.5 226.6 L600.0 226.8 L600.5 227.0 L601.0 227.1 L601.5 227.2 L602.0 227.4 L602.5 227.4 L603.0 227.5 L603.5 227.6 L604.0 227.6 L604.5 227.6 L605.0 227.6 L605.5 227.5 L606.0 227.5 L606.5 227.4 L607.0 227.3 L607.5 227.2 L608.0 227.1 L608.5 226.9 L609.0 226.8 L609.5 226.6 L610.0 226.4 L610.5 226.3 L611.0 226.1 L611.5 225.9 L612.0 225.7 L612.5 225.5 L613.0 225.3 L613.5 225.1 L614.0 224.9 L614.5 224.7 L615.0 224.5 L615.5 224.4 L616.0 224.2 L616.5 224.1 L617.0 224.0 L617.5 223.9 L618.0 223.8 L618.5 223.8 L619.0 223.7 L619.5 223.7 L620.0 223.7 L620.5 223.7 L621.0 223.8 L621.5 223.8 L622.0 223.9 L622.5 224.0 L623.0 224.1 L623.5 224.2 L624.0 224.3 L624.5 224.4 L625.0 224.6 L625.5 224.7 L626.0 224.9 L626.5 225.0 L627.0 225.2 L627.5 225.3 L628.0 225.5 L628.5 225.6 L629.0 225.8 L629.5 225.9 L630.0 226.0 L630.5 226.1 L631.0 226.2 L631.5 226.3 L632.0 226.4 L632.5 226.4 L633.0 226.5 L633.5 226.5 L634.0 226.5 L634.5 226.5 L635.0 226.5 L635.5 226.4 L636.0 226.4 L636.5 226.3 L637.0 226.3 L637.5 226.2 L638.0 226.1 L638.5 226.0 L639.0 225.9 L639.5 225.8 L640.0 225.7 L640.5 225.6 L641.0 225.5 L641.5 225.4 L642.0 225.3 L642.5 225.3 L643.0 225.2 L643.5 225.1 L644.0 225.0 L644.5 225.0 L645.0 224.9 L645.5 224.9 L646.0 224.8 L646.5 224.8 L647.0 224.8 L647.5 224.8 L648.0 224.8 L648.5 224.8 L649.0 224.9 L649.5 224.9 L650.0 224.9 L650.5 225.0 L651.0 225.0 L651.5 225.1 L652.0 225.2 L652.5 225.2 L653.0 225.3 L653.5 225.4 L654.0 225.4 L654.5 225.5 L655.0 225.6 L655.5 225.6 L656.0 225.7 L656.5 225.8 L657.0 225.8 L657.5 225.9 L658.0 225.9 L658.5 226.0 L659.0 226.0 L659.5 226.1 L660.0 226.1 L660.5 226.1 L661.0 226.1 L661.5 226.1 L662.0 226.1 L662.5 226.1 L663.0 226.0 L663.5 226.0 L664.0 225.9 L664.5 225.9 L665.0 225.8 L665.5 225.7 L666.0 225.7 L666.5 225.6 L667.0 225.5 L667.5 225.4 L668.0 225.3 L668.5 225.2 L669.0 225.2 L669.5 225.1 L670.0 225.0 L670.5 225.0 L671.0 224.9 L671.5 224.9 L672.0 224.8 L672.5 224.8 L673.0 224.8 L673.5 224.8 L674.0 224.8 L674.5 224.8 L675.0 224.8 L675.5 224.9 L676.0 224.9 L676.5 225.0 L677.0 225.0 L677.5 225.1 L678.0 225.1 L678.5 225.2 L679.0 225.2 L679.5 225.3 L680.0 225.3 L680.5 225.4 L681.0 225.4 L681.5 225.4 L682.0 225.5 L682.5 225.5 L683.0 225.5 L683.5 225.5" stroke="#ff7f0e" stroke-width="3.25"/>
</g>
<g stroke="#000" stroke-width="3.33" fill="none">
<line x1="107.85" x2="122.45" y1="10.11" y2="10.11"/>
<line x1="107.85" x2="122.45" y1="81.89" y2="81.89"/>
<line x1="107.85" x2="122.45" y1="153.67" y2="153.67"/>
<line x1="107.85" x2="122.45" y1="225.45" y2="225.45"/>
<line x1="107.85" x2="122.45" y1="297.23" y2="297.23"/>
<line x1="107.85" x2="122.45" y1="369.01" y2="369.01"/>
<line x1="107.85" x2="122.45" y1="440.79" y2="440.79"/>
<line x1="122.45" x2="122.45" y1="448.8" y2="463.40"/>
<line x1="216.00" x2="216.00" y1="448.8" y2="463.40"/>
<line x1="309.55" x2="309.55" y1="448.8" y2="463.40"/>
<line x1="403.10" x2="403.10" y1="448.8" y2="463.40"/>
<line x1="496.65" x2="496.65" y1="448.8" y2="463.40"/>
<line x1="590.20" x2="590.20" y1="448.8" y2="463.40"/>
<rect x="122.45" y="2.0" width="560.75" height="446.80" stroke-linejoin="miter"/>
</g>
<text class="tk" x="92.7" y="20.9" text-anchor="end" textLength="15.8" lengthAdjust="spacingAndGlyphs">3</text>
<text class="tk" x="92.7" y="92.7" text-anchor="end" textLength="15.8" lengthAdjust="spacingAndGlyphs">2</text>
<text class="tk" x="92.7" y="164.5" text-anchor="end" textLength="15.8" lengthAdjust="spacingAndGlyphs">1</text>
<text class="tk" x="92.7" y="236.2" text-anchor="end" textLength="15.8" lengthAdjust="spacingAndGlyphs">0</text>
<text class="tk" x="92.7" y="308.0" text-anchor="end" textLength="15.8" lengthAdjust="spacingAndGlyphs">1</text>
<text x="75.4" y="310.4" text-anchor="end" textLength="24" lengthAdjust="spacingAndGlyphs">−</text>
<text class="tk" x="92.7" y="379.8" text-anchor="end" textLength="15.8" lengthAdjust="spacingAndGlyphs">2</text>
<text x="75.4" y="382.2" text-anchor="end" textLength="24" lengthAdjust="spacingAndGlyphs">−</text>
<text class="tk" x="92.7" y="451.6" text-anchor="end" textLength="15.8" lengthAdjust="spacingAndGlyphs">3</text>
<text x="75.4" y="454.0" text-anchor="end" textLength="24" lengthAdjust="spacingAndGlyphs">−</text>
<text class="tk" x="122.7" y="498.7" text-anchor="middle" textLength="43.2" lengthAdjust="spacingAndGlyphs">0.0</text>
<text class="tk" x="216.2" y="498.7" text-anchor="middle" textLength="43.2" lengthAdjust="spacingAndGlyphs">0.5</text>
<text class="tk" x="309.8" y="498.7" text-anchor="middle" textLength="43.2" lengthAdjust="spacingAndGlyphs">1.0</text>
<text class="tk" x="403.3" y="498.7" text-anchor="middle" textLength="43.2" lengthAdjust="spacingAndGlyphs">1.5</text>
<text class="tk" x="496.8" y="498.7" text-anchor="middle" textLength="43.2" lengthAdjust="spacingAndGlyphs">2.0</text>
<text class="tk" x="590.4" y="498.7" text-anchor="middle" textLength="43.2" lengthAdjust="spacingAndGlyphs">2.5</text>
<text x="332.4" y="541.2" textLength="73.5" lengthAdjust="spacingAndGlyphs">Time</text>
<text x="418.4" y="541.4" style="font-size:34px" textLength="11.5" lengthAdjust="spacingAndGlyphs">(</text>
<text x="430.6" y="541.2" textLength="30.8" lengthAdjust="spacingAndGlyphs">ns</text>
<text x="461.6" y="541.4" style="font-size:34px" textLength="11.5" lengthAdjust="spacingAndGlyphs">)</text>
<g transform="translate(26.6,325.2) rotate(-90)">
<text x="-0.6" y="0" style="font-size:32.4px" textLength="24.2" lengthAdjust="spacingAndGlyphs">Δ</text>
<text class="br" transform="translate(37.9,5.1) scale(0.78,1.06)" x="0" y="0" text-anchor="end">〈</text>
<text class="it" x="37.5" y="0" textLength="21.5" lengthAdjust="spacingAndGlyphs">m</text>
<text class="it" x="69.2" y="4.6" style="font-size:21.3px" textLength="13.4" lengthAdjust="spacingAndGlyphs">y</text>
<text class="br" transform="translate(86.1,5.1) scale(0.78,1.06)" x="0" y="0">〉</text>
<text x="113.2" y="6.6" style="font-size:42px">/</text>
<text x="133.7" y="0" textLength="31.8" lengthAdjust="spacingAndGlyphs">10</text>
<text x="167.0" y="-11.5" style="font-size:20.7px" textLength="19" lengthAdjust="spacingAndGlyphs">−</text>
<text x="187.6" y="-11.3" style="font-size:21.6px" textLength="12.8" lengthAdjust="spacingAndGlyphs">3</text>
</g>
<rect x="443.0" y="16.1" width="225.1" height="90.3" rx="5.5" ry="5.5" fill="#fff" fill-opacity="0.8" stroke="#cccccc" stroke-opacity="0.8" stroke-width="4.17"/>
<line x1="450.5" x2="515.6" y1="38" y2="38" stroke="#1f77b4" stroke-width="6.25"/>
<line x1="450.5" x2="515.6" y1="78.7" y2="78.7" stroke="#ff7f0e" stroke-width="6.25"/>
<text x="535.8" y="48.4" style="font-size:28.6px" textLength="104.0" lengthAdjust="spacingAndGlyphs">mumax</text>
<text x="641.2" y="36.7" style="font-size:21.6px" textLength="12.8" lengthAdjust="spacingAndGlyphs">3</text>
<text x="535.8" y="88.3" style="font-size:28.6px" textLength="104.0" lengthAdjust="spacingAndGlyphs">mumax</text>
<text x="636.2" y="81.5" style="font-size:34px">+</text>
</svg></body></html>
